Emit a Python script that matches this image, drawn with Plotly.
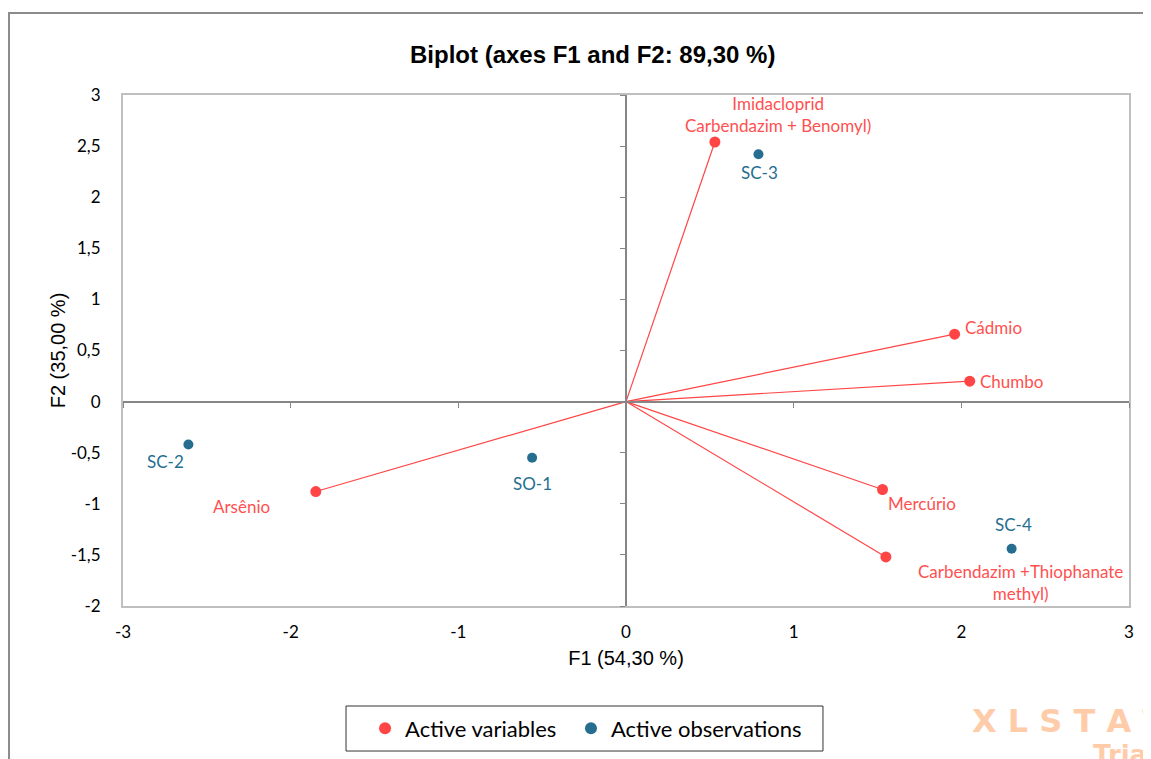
import plotly.graph_objects as go

# ---- data ----
var_names = ["Imidacloprid<br>Carbendazim + Benomyl)", "Cádmio", "Chumbo", "Mercúrio",
             "Carbendazim +Thiophanate<br>methyl)", "Arsênio"]
var_x = [0.53, 1.96, 2.05, 1.53, 1.55, -1.85]
var_y = [2.54, 0.66, 0.20, -0.86, -1.52, -0.88]

obs_names = ["SO-1", "SC-2", "SC-3", "SC-4"]
obs_x = [-0.56, -2.61, 0.79, 2.30]
obs_y = [-0.55, -0.42, 2.42, -1.44]

x_ticks = [-3, -2, -1, 0, 1, 2, 3]
x_ticktext = ["-3", "-2", "-1", "0", "1", "2", "3"]
y_ticks = [-2, -1.5, -1, -0.5, 0, 0.5, 1, 1.5, 2, 2.5, 3]
y_ticktext = ["-2", "-1,5", "-1", "-0,5", "0", "0,5", "1", "1,5", "2", "2,5", "3"]

RED = "#FF4545"
RED_TXT = "#FF5050"
BLUE = "#256E90"
LABEL_FONT = "Lato, 'Open Sans', sans-serif"

# label placement styles (xanchor, yanchor, xshift, yshift)
var_lab_style = [
    ("center", "bottom", 63, 4),
    ("left", "middle", 8, 7),
    ("left", "middle", 8, 0),
    ("left", "top", 3, -2),
    ("center", "top", 135, -2),
    ("right", "top", -44, -2),
]
obs_lab_style = [
    ("center", "top", 0, -13),
    ("right", "top", -2, -4),
    ("center", "top", 1, -6),
    ("center", "bottom", 2, 12),
]

fig = go.Figure()

# vectors from origin
lx, ly = [], []
for x, y in zip(var_x, var_y):
    lx += [0, x, None]
    ly += [0, y, None]
fig.add_trace(go.Scatter(x=lx, y=ly, mode="lines", line=dict(color=RED, width=1.2),
                         showlegend=False, hoverinfo="skip"))

fig.add_trace(go.Scatter(x=var_x, y=var_y, mode="markers", name="Active variables",
                         marker=dict(color=RED, size=11), text=var_names, legend="legend"))
fig.add_trace(go.Scatter(x=obs_x, y=obs_y, mode="markers", name="Active observations",
                         marker=dict(color=BLUE, size=10), text=obs_names, legend="legend2"))

annotations = []
for n, x, y, (xa, ya, xs, ys) in zip(var_names, var_x, var_y, var_lab_style):
    annotations.append(dict(x=x, y=y, text=n, showarrow=False, xanchor=xa, yanchor=ya,
                            xshift=xs, yshift=ys, font=dict(color=RED_TXT, size=17, family=LABEL_FONT)))
for n, x, y, (xa, ya, xs, ys) in zip(obs_names, obs_x, obs_y, obs_lab_style):
    annotations.append(dict(x=x, y=y, text=n, showarrow=False, xanchor=xa, yanchor=ya,
                            xshift=xs, yshift=ys, font=dict(color=BLUE, size=17, family=LABEL_FONT)))

# watermark
annotations.append(dict(xref="paper", yref="paper", x=0.842, y=-0.225, text="<b>X L S T A T</b>",
                        showarrow=False, xanchor="left", yanchor="middle",
                        font=dict(color="#FFCCAA", size=32, family="DejaVu Sans")))
annotations.append(dict(xref="paper", yref="paper", x=0.962, y=-0.292, text="<b>Trial</b>",
                        showarrow=False, xanchor="left", yanchor="middle",
                        font=dict(color="#FFCCAA", size=26, family="DejaVu Sans")))

leg_common = dict(orientation="h", yanchor="middle", y=-0.2397, borderwidth=0,
                  font=dict(size=22, family=LABEL_FONT), itemsizing="constant",
                  bgcolor="rgba(0,0,0,0)", xanchor="left")

fig.update_layout(
    width=1151, height=759,
    margin=dict(l=115, r=30, t=87, b=161),
    paper_bgcolor="white", plot_bgcolor="white",
    title=dict(text="<b>Biplot (axes F1 and F2: 89,30 %)</b>", x=0.508, xanchor="center",
               y=0.938, yanchor="middle",
               font=dict(family="Liberation Sans, Arial", size=24, color="black")),
    font=dict(family=LABEL_FONT, size=17, color="black"),
    xaxis=dict(range=[-3, 3], tickvals=x_ticks, ticktext=x_ticktext, showgrid=False,
               zeroline=False, showline=True, linecolor="#BFBFBF", linewidth=2, mirror=True,
               ticks="", ticklabelstandoff=10, tickfont=dict(size=17),
               title=dict(text="F1 (54,30 %)", standoff=10,
                          font=dict(family="Liberation Sans, Arial", size=20))),
    yaxis=dict(range=[-2, 3], tickvals=y_ticks, ticktext=y_ticktext, showgrid=False,
               zeroline=False, showline=True, linecolor="#BFBFBF", linewidth=2, mirror=True,
               ticks="", ticklabelstandoff=17, tickfont=dict(size=17),
               title=dict(text="F2 (35,00 %)", standoff=0,
                          font=dict(family="Liberation Sans, Arial", size=20))),
    xaxis2=dict(range=[-3, 3], overlaying="x", anchor="free", position=0.4, side="bottom",
                tickvals=x_ticks, showticklabels=False, showgrid=False, zeroline=False,
                showline=True, linecolor="#868686", linewidth=2, ticks="outside",
                ticklen=5, tickcolor="#868686"),
    yaxis2=dict(range=[-2, 3], overlaying="y", anchor="free", position=0.5, side="left",
                tickvals=y_ticks, showticklabels=False, showgrid=False, zeroline=False,
                showline=True, linecolor="#868686", linewidth=2, ticks="outside",
                ticklen=5, tickcolor="#868686"),
    legend=dict(x=0.2406, **leg_common),
    legend2=dict(x=0.4453, **leg_common),
    annotations=annotations,
    shapes=[
        dict(type="rect", xref="paper", yref="paper", x0=-0.1133, y0=-0.6, x1=1.2,
             y1=1.1605, line=dict(color="#8C8C8C", width=2), layer="below"),
        dict(type="rect", xref="paper", yref="paper", x0=0.2217, y0=-0.2838, x1=0.6958,
             y1=-0.1957, line=dict(color="#333333", width=1), fillcolor="white", layer="below"),
    ],
)

# dummy traces to activate secondary axes
fig.add_trace(go.Scatter(x=[None], y=[None], xaxis="x2", yaxis="y2", showlegend=False,
                         hoverinfo="skip"))

fig.write_html("out.html")
